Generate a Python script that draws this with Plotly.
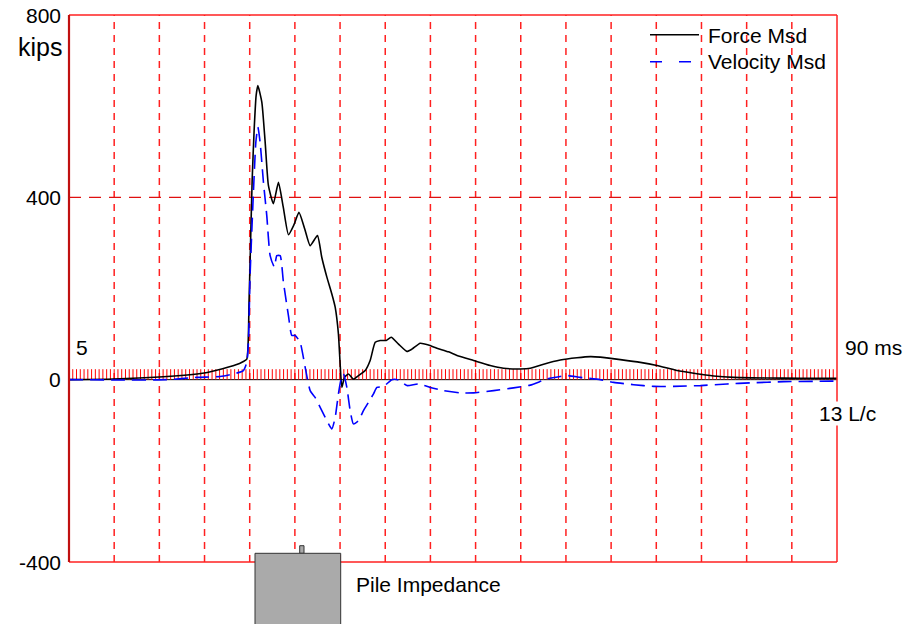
import numpy as np
import plotly.graph_objects as go

# Time axis (ms) and measured force (kips)
force_t = [5.0, 9.87, 14.97, 19.95, 22.0, 23.4, 24.3, 24.68, 24.93, 25.1, 25.27, 25.49, 25.71, 25.9,
           26.34, 26.71, 27.07, 27.62, 28.18, 28.7, 29.29, 29.9, 30.45, 31.1, 31.69, 32.5, 32.98,
           33.54, 34.09, 34.46, 34.82, 35.01, 35.2, 35.49, 35.93, 36.48, 37.04, 37.78, 38.33,
           38.89, 39.44, 40.1, 40.66, 41.47, 42.4, 42.95, 43.87, 44.79, 45.72, 47.0, 47.94, 49.77,
           51.62, 53.09, 54.94, 56.05, 57.53, 59.37, 61.22, 62.7, 63.8, 66.02, 68.23, 70.08, 72.3,
           74.14, 76.35, 78.57, 82.26, 85.95, 90.0]
force_v = [0, 1.5, 5.9, 14.7, 24, 32, 40, 45, 173, 305, 437, 547, 623, 645,
           609, 521, 426, 386, 433, 380, 318, 340, 367, 330, 294, 316, 268,
           225, 188, 159, 100, 34, -17, 5, 12.5, 1.5, 9, 20, 42,
           82, 86, 86, 93, 78, 62, 67, 80, 76, 69, 61, 53, 42,
           31, 25, 23.5, 25, 34, 43, 48, 50.5, 49.4, 44, 38, 31, 20,
           14, 8, 5, 3.7, 3, 3]

# Measured velocity, scaled to force units (kips)
vel_t = [5.0, 10.65, 15.82, 19.14, 21.72, 23.2, 24.3, 24.68, 24.86, 25.04, 25.41, 25.68, 25.9,
         26.15, 26.52, 26.89, 27.26, 27.73, 28.0, 28.37, 28.73, 29.29, 29.66, 30.03, 30.58,
         31.14, 31.69, 32.24, 32.98, 33.54, 34.09, 34.46, 34.82, 35.12, 35.38, 35.75, 36.12,
         36.48, 37.04, 37.59, 38.14, 38.7, 39.08, 39.81, 40.74, 41.47, 42.4, 43.68, 44.98,
         46.45, 48.3, 49.77, 51.99, 54.2, 56.05, 57.9, 59.37, 60.11, 61.59, 63.8, 65.28, 67.49,
         69.71, 71.92, 74.88, 77.83, 80.41, 84.1, 87.8, 90.0]
vel_v = [0, -0.7, 0, 5, 7, 12.5, 20, 38, 82, 228, 411, 521, 554,
         521, 433, 360, 272, 247, 272, 272, 214, 140, 97, 97, 82,
         27, -24, -39, -68, -90, -108, -83, -31, 1.5, 12.5, -17, -68,
         -97, -90, -68, -50, -31, -17, -15, 0, -0.7, -13, -9.4, -17,
         -24, -29, -29, -24, -18, -12, 1.5, 7, 9, 5, 0, -6, -11,
         -14.7, -14.7, -13, -9.4, -7, -4.4, -3.7, -3]

y_ticks = [-400, 0, 400, 800]
t_start, t_end = 5, 90
grid_times = list(range(10, 90, 5))

FONT = "Liberation Sans, Arial, sans-serif"
W, H = 917, 624
ML, MR, MT, MB = 69, 80, 15, 62
PW, PH = W - ML - MR, H - MT - MB


def px(x):
    return (x - ML) / PW


def py(y):
    return (H - MB - y) / PH


fig = go.Figure()

# red ruler ticks along the zero line
tick_t = np.arange(t_start + 5 / 12, t_end, 5 / 12)
rx, ry = [], []
for t in tick_t:
    rx += [t, t, None]
    ry += [0, 23, None]
fig.add_trace(go.Scatter(x=rx, y=ry, mode="lines", line=dict(color="#ff0000", width=1),
                         hoverinfo="skip", showlegend=False))

fig.add_trace(go.Scatter(x=force_t, y=force_v, mode="lines", name="Force Msd",
                         line=dict(color="black", width=1.6, shape="spline", smoothing=0.5),
                         showlegend=False))
fig.add_trace(go.Scatter(x=vel_t, y=vel_v, mode="lines", name="Velocity Msd",
                         line=dict(color="#0000ff", width=1.6, dash="14px,7px",
                                   shape="spline", smoothing=0.5),
                         showlegend=False))

shapes = []
for t in grid_times:
    shapes.append(dict(type="line", xref="x", yref="paper", x0=t, x1=t, y0=0, y1=1,
                       line=dict(color="#ff2020", width=1.5, dash="7px,6px"), layer="below"))
shapes.append(dict(type="line", xref="paper", yref="y", x0=0, x1=1, y0=400, y1=400,
                   line=dict(color="#e01010", width=1.2, dash="12px,8px"), layer="below"))
shapes.append(dict(type="line", xref="paper", yref="y", x0=0, x1=1, y0=0, y1=0,
                   line=dict(color="black", width=1), layer="below"))
# frame
shapes.append(dict(type="line", xref="paper", yref="paper", x0=0, x1=1, y0=1, y1=1,
                   line=dict(color="#ff2020", width=1.5)))
shapes.append(dict(type="line", xref="paper", yref="paper", x0=1, x1=1, y0=0, y1=1,
                   line=dict(color="#ff2020", width=1.5)))
shapes.append(dict(type="line", xref="paper", yref="paper", x0=0, x1=1, y0=0, y1=0,
                   line=dict(color="#ff2020", width=1.5)))
shapes.append(dict(type="line", xref="paper", yref="paper", x0=0, x1=0, y0=0, y1=1,
                   line=dict(color="#c01010", width=2.2)))
# legend samples
shapes.append(dict(type="line", xref="paper", yref="paper", x0=px(650), x1=px(699),
                   y0=py(34.7), y1=py(34.7), line=dict(color="black", width=1.5)))
shapes.append(dict(type="line", xref="paper", yref="paper", x0=px(650), x1=px(699),
                   y0=py(61.7), y1=py(61.7), line=dict(color="#0000ff", width=1.5, dash="12px,17px")))
# pile impedance block
shapes.append(dict(type="rect", xref="paper", yref="paper", x0=px(299.7), x1=px(304),
                   y0=py(553.3), y1=py(545.7), fillcolor="#aaaaaa",
                   line=dict(color="#333333", width=1)))
shapes.append(dict(type="rect", xref="paper", yref="paper", x0=px(255), x1=px(340.7),
                   y0=py(553.3), y1=py(640), fillcolor="#aaaaaa",
                   line=dict(color="#333333", width=1)))

ann = []
for v in y_ticks:
    ann.append(dict(xref="paper", yref="y", x=0, y=v, xshift=-7, xanchor="right", yanchor="middle",
                    text=str(v), showarrow=False, font=dict(family=FONT, size=21, color="black"),
                    borderpad=0))
ann.append(dict(xref="paper", yref="paper", x=px(63), y=py(47), xanchor="right", yanchor="middle",
                text="kips", showarrow=False, font=dict(family=FONT, size=25, color="black"), borderpad=0))


def label(text, x, y, **kw):
    d = dict(xref="paper", yref="paper", x=px(x), y=py(y), xanchor="left", yanchor="middle",
             text=text, showarrow=False, font=dict(family=FONT, size=21, color="black"), borderpad=0)
    d.update(kw)
    ann.append(d)


label("5", 75, 347)
label("90 ms", 844, 347)
label("13 L/c", 818, 413, bgcolor="white")
label("Pile Impedance", 355, 584)
label("Force Msd", 707, 35)
label("Velocity Msd", 707, 62)

fig.update_layout(
    width=W, height=H,
    margin=dict(l=ML, r=MR, t=MT, b=MB, pad=0),
    paper_bgcolor="white", plot_bgcolor="white",
    shapes=shapes, annotations=ann, showlegend=False,
    xaxis=dict(range=[t_start, t_end], showgrid=False, zeroline=False, showticklabels=False,
               ticks="", showline=False, fixedrange=True),
    yaxis=dict(range=[-400, 800], showgrid=False, zeroline=False, showticklabels=False,
               ticks="", showline=False, fixedrange=True),
)

fig.write_html("out.html")
